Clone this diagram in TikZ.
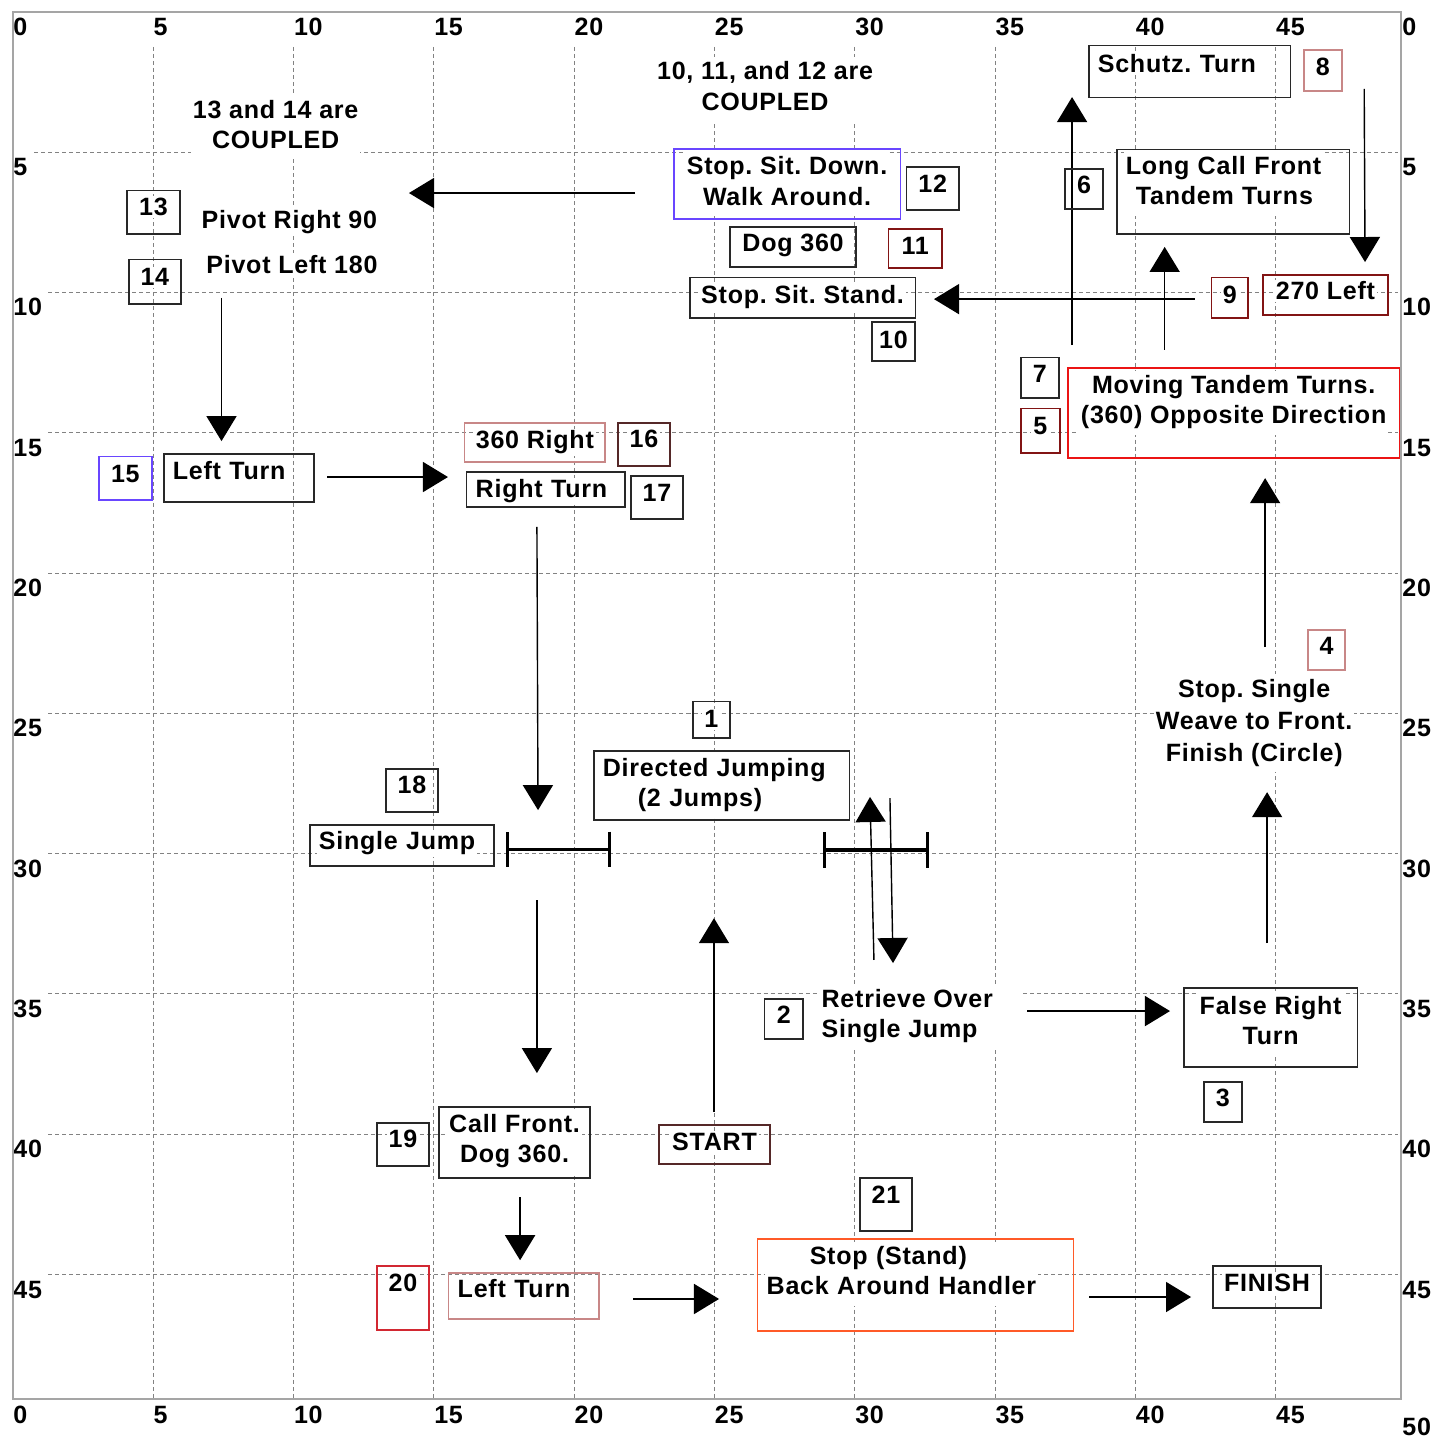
\documentclass[tikz,border=0pt]{standalone}
\usepackage{fontspec}
\setmainfont{Liberation Sans}[LetterSpace=3]
\usepackage{tikz}
\usetikzlibrary{arrows.meta}

\definecolor{gridgray}{RGB}{130,130,130}
\definecolor{framegray}{RGB}{165,165,165}
\definecolor{boxblack}{RGB}{40,40,40}
\definecolor{stepblue}{RGB}{105,70,255}
\definecolor{stepmaroon}{RGB}{130,20,20}
\definecolor{steprose}{RGB}{200,135,135}
\definecolor{stepbrown}{RGB}{85,40,40}
\definecolor{stepred}{RGB}{235,20,20}
\definecolor{stepredtwo}{RGB}{210,40,50}
\definecolor{steporange}{RGB}{255,90,40}

\frenchspacing
\setlength{\fboxsep}{1pt}
\newcommand{\wt}[1]{\colorbox{white}{#1}}
\newcommand{\wtt}[2][c]{\colorbox{white}{\begin{tabular}[t]{@{}#1@{}}#2\end{tabular}}}

\tikzset{
  gridline/.style={gridgray, line width=0.5pt, dash pattern=on 2pt off 1.5pt},
  axisnum/.style={fill=white, inner xsep=2pt, inner ysep=2pt, xshift=-2pt, text height=10.5pt, text depth=3pt, anchor=base west},
  box/.style={draw=boxblack, line width=0.75pt, inner sep=0pt, anchor=north west},
  lbox/.style={box, align=left, inner xsep=3.5pt},
  note/.style={inner sep=0pt},
  flow/.style={line width=0.7pt, -{Triangle[length=12.5pt, width=15pt]}},
  jump/.style={line width=1.6pt, {Bar[width=17.5pt]}-{Bar[width=17.5pt]}}
}

\begin{document}
\begin{tikzpicture}[x=14pt, y=-14pt, every node/.style={font=\fontsize{12.5}{15}\selectfont\bfseries}]
  \useasboundingbox (-0.463,-0.419) rectangle (50.64,50.86);

  % grid and scale
  \foreach \k in {5,10,...,45} {
    \draw[gridline] (\k,0) -- (\k,49.45);
    \draw[gridline] (0,\k) -- (49.45,\k);
  }
  \foreach \k in {0,5,...,45} {
    \node[axisnum] at (\k,0.83) {\k};
    \node[axisnum] at (\k,50.29) {\k};
  }
  \foreach \k in {5,10,...,45}
    \node[axisnum] at (0,\k+0.84) {\k};
  \foreach \k in {0,5,...,45}
    \node[axisnum] at (49.5,\k+0.84) {\k};
  \node[axisnum] at (49.5,50.72) {50};
  \draw[framegray, line width=1pt] (0,0) rectangle (49.45,49.45);

  % arrows
  \foreach \n/\ax/\ay/\bx/\by in {
      a1/22.17/6.46/14.11/6.46,    a2/7.43/10.20/7.43/15.30,
      a3/11.19/16.58/15.50/16.58,  a4/18.67/18.36/18.71/28.45,
      a5/18.67/31.66/18.67/37.82,  a6/18.07/42.24/18.07/44.49,
      a7/22.10/45.87/25.16/45.87,  a8/38.35/45.80/41.98/45.80,
      a9/24.98/39.21/24.98/32.30,  a10/30.68/33.79/30.54/27.98,
      a11/31.25/28.02/31.36/33.90, a12/36.14/35.61/41.23/35.61,
      a13/44.69/33.19/44.69/27.81, a14/44.62/22.64/44.62/16.62,
      a15/37.74/11.88/37.74/3.04,  a16/41.04/12.05/41.04/8.38,
      a17/42.12/10.24/32.82/10.24, a18/48.15/2.75/48.18/8.92} {
    \coordinate (\n-s) at (\ax,\ay);
    \coordinate (\n-e) at (\bx,\by);
    \draw[flow] (\n-s) -- (\n-e);
  }

  % jumps
  \draw[jump] (17.57,29.84) -- (21.31,29.84);
  \draw[jump] (28.87,29.87) -- (32.64,29.87);

  % notes
  \node[note, anchor=base] (couple1314) at (9.36,3.79) {\wtt{13 and 14 are\\COUPLED}};
  \node[note, anchor=base] (couple1012) at (26.80,2.43) {\wtt{10, 11, and 12 are\\COUPLED}};
  \node[note, anchor=base] (pivotR) at (9.85,7.71) {\wt{Pivot Right 90}};
  \node[note, anchor=base] (pivotL) at (9.94,9.31) {\wt{Pivot Left 180}};
  \node[note, anchor=base, font=\fontsize{12.5}{15.75}\selectfont\bfseries] (weave) at (44.23,24.45) {\wtt{Stop. Single\\Weave to Front.\\Finish (Circle)}};
  \node[note, anchor=base west] (retrieve) at (28.73,35.47) {\wtt[l@{\hspace{14pt}}]{Retrieve Over\\Single Jump}};

  % steps
  \node[box, minimum width=26.5pt, text height=12.5pt, text depth=9pt] (s13) at (4.03,6.35) {\wt{13}};
  \node[box, minimum width=26pt, text height=13pt, text depth=9pt] (s14) at (4.10,8.81) {\wt{14}};
  \node[box, draw=stepblue, minimum width=113pt, text height=13pt, text depth=22pt] (sitdown) at (23.52,4.86) {\wtt{Stop. Sit. Down.\\Walk Around.}};
  \node[box, minimum width=26pt, text height=13pt, text depth=8.5pt] (s12) at (31.82,5.50) {\wt{12}};
  \node[box, minimum width=63pt, text height=12.5pt, text depth=7.5pt] (dog) at (25.52,7.64) {\wt{Dog 360}};
  \node[box, draw=stepmaroon, minimum width=26.5pt, text height=13pt, text depth=6.5pt] (s11) at (31.18,7.71) {\wt{11}};
  \node[box, minimum width=112.5pt, text height=13pt, text depth=7pt] (sitstand) at (24.09,9.45) {\wt{Stop. Sit. Stand.}};
  \node[box, minimum width=21.5pt, text height=13.5pt, text depth=6pt] (s10) at (30.58,11.02) {\wt{10}};
  \node[lbox, text width=93.5pt, text height=13.5pt, text depth=12.5pt] (schutz) at (38.31,1.18) {\wt{Schutz. Turn}};
  \node[box, draw=steprose, minimum width=19pt, text height=13pt, text depth=7.5pt] (s8) at (45.97,1.33) {\wt{8}};
  \node[box, minimum width=19pt, text height=12.5pt, text depth=7.5pt] (s6) at (37.46,5.57) {\wt{6}};
  \node[lbox, text width=109pt, text height=12.5pt, text depth=29.5pt] (longcall) at (39.31,4.89) {\wtt[l]{Long Call Front\\\hspace*{5pt}Tandem Turns}};
  \node[box, draw=stepmaroon, minimum width=18pt, text height=13pt, text depth=7pt] (s9) at (42.69,9.45) {\wt{9}};
  \node[box, draw=stepmaroon, minimum width=62.5pt, text height=12.5pt, text depth=7.5pt] (left270) at (44.51,9.35) {\wt{270 Left}};
  \node[box, draw=stepblue, minimum width=26.5pt, text height=13pt, text depth=8.5pt] (s15) at (3.03,15.83) {\wt{15}};
  \node[lbox, text width=68pt, text height=13pt, text depth=11pt] (leftA) at (5.35,15.73) {\wt{Left Turn}};
  \node[box, draw=steprose, minimum width=70pt, text height=13pt, text depth=6.5pt] (right360) at (16.07,14.62) {\wt{360 Right}};
  \node[box, draw=stepbrown, minimum width=26pt, text height=12.5pt, text depth=9pt] (s16) at (21.53,14.62) {\wt{16}};
  \node[lbox, text width=72pt, text height=13pt, text depth=4.5pt] (rightturn) at (16.14,16.37) {\wt{Right Turn}};
  \node[box, minimum width=26pt, text height=13pt, text depth=8.5pt] (s17) at (21.99,16.51) {\wt{17}};
  \node[box, minimum width=18.5pt, text height=13pt, text depth=5pt] (s1) at (24.20,24.56) {\wt{1}};
  \node[box, minimum width=19pt, text height=12.5pt, text depth=7.5pt] (s7) at (35.89,12.30) {\wt{7}};
  \node[box, draw=stepmaroon, minimum width=19.5pt, text height=13pt, text depth=9pt] (s5) at (35.89,14.12) {\wt{5}};
  \node[box, draw=stepred, minimum width=165.5pt, text height=13pt, text depth=32pt] (moving) at (37.56,12.66) {\wtt{Moving Tandem Turns.\\(360) Opposite Direction}};
  \node[box, draw=steprose, minimum width=18.5pt, text height=12.5pt, text depth=7.5pt] (s4) at (46.12,22.00) {\wt{4}};
  \node[box, minimum width=26pt, text height=12.5pt, text depth=9pt] (s18) at (13.26,26.95) {\wt{18}};
  \node[lbox, text width=85pt, text height=12.5pt, text depth=8pt] (single) at (10.55,28.95) {\wt{Single Jump}};
  \node[lbox, text width=120.5pt, text height=13pt, text depth=21.5pt] (directed) at (20.67,26.31) {\wtt[l]{Directed Jumping\\\hspace*{17.5pt}(2 Jumps)}};
  \node[box, minimum width=19pt, text height=12.5pt, text depth=7.5pt] (s2) at (26.76,35.15) {\wt{2}};
  \node[box, minimum width=86.5pt, text height=13pt, text depth=26.5pt] (falseright) at (41.70,34.76) {\wtt{False Right\\Turn}};
  \node[box, minimum width=19pt, text height=12pt, text depth=8pt] (s3) at (42.41,38.11) {\wt{3}};
  \node[box, minimum width=26pt, text height=12.5pt, text depth=9pt] (s19) at (12.94,39.57) {\wt{19}};
  \node[box, draw=stepredtwo, minimum width=26pt, text height=13pt, text depth=19pt] (s20) at (12.94,44.66) {\wt{20}};
  \node[box, minimum width=75.5pt, text height=12.5pt, text depth=23pt] (callfront) at (15.15,39.00) {\wtt{Call Front.\\Dog 360.}};
  \node[lbox, draw=steprose, text width=68pt, text height=12.5pt, text depth=10.5pt] (leftB) at (15.50,44.91) {\wt{Left Turn}};
  \node[box, draw=stepbrown, minimum width=55.5pt, text height=13pt, text depth=6.5pt] (start) at (22.99,39.64) {\wt{START}};
  \node[box, minimum width=26pt, text height=12.5pt, text depth=14pt] (s21) at (30.15,41.53) {\wt{21}};
  \node[lbox, draw=steporange, text width=150.5pt, text height=13pt, text depth=33pt] (stopstand) at (26.51,43.70) {\wtt[l]{\hspace*{21.5pt}Stop (Stand)\\Back Around Handler}};
  \node[box, minimum width=54pt, text height=13pt, text depth=8pt] (finish) at (42.73,44.66) {\wt{FINISH}};
\end{tikzpicture}
\end{document}
